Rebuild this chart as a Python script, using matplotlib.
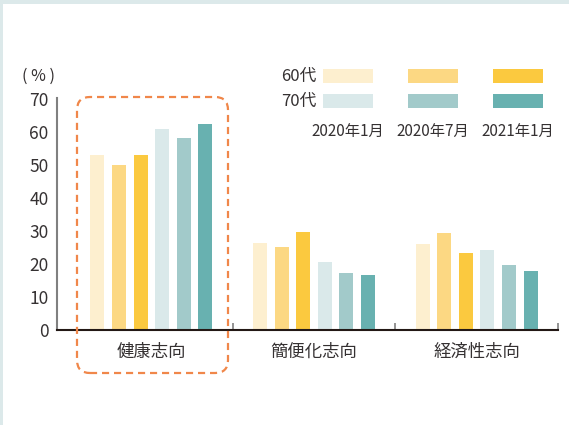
import matplotlib
matplotlib.use("Agg")
import matplotlib.pyplot as plt
from matplotlib.patches import Rectangle, FancyBboxPatch
import numpy as np

plt.rcParams['font.family'] = ['Noto Sans CJK JP', 'DejaVu Sans']

categories = ["健康志向", "簡便化志向", "経済性志向"]
periods = ["2020年1月", "2020年7月", "2021年1月"]
age_groups = ["60代", "70代"]
s60_2020_01 = [53.0, 26.4, 26.1]
s60_2020_07 = [50.0, 25.2, 29.4]
s60_2021_01 = [53.0, 29.7, 23.3]
s70_2020_01 = [60.9, 20.6, 24.2]
s70_2020_07 = [58.2, 17.3, 19.7]
s70_2021_01 = [62.4, 16.7, 17.9]
yticks = [0, 10, 20, 30, 40, 50, 60, 70]

series = [s60_2020_01, s60_2020_07, s60_2021_01, s70_2020_01, s70_2020_07, s70_2021_01]
colors = ["#fdefcf", "#fcd883", "#fbc93f", "#dae9ea", "#a2caca", "#68b1b0"]
text_color = "#353132"

W, H = 569, 425
fig = plt.figure(figsize=(W / 100, H / 100), dpi=100)
fig.patch.set_facecolor("#dce9ea")
fig.patches.append(Rectangle((3, 0), W - 3, H - 4, transform=None,
                             facecolor="white", edgecolor="none", zorder=-10))

ax_l, ax_r, ax_b, ax_t = 57, 558, 330, 99
ax = fig.add_axes([ax_l / W, (H - ax_b) / H, (ax_r - ax_l) / W, (ax_b - ax_t) / H])
ax.set_facecolor("none")

centers = np.arange(len(categories)) + 0.5
step = 0.1328
width = 0.086
for i, (vals, c) in enumerate(zip(series, colors)):
    ax.bar(centers + (i - 2.5) * step, vals, width=width, color=c, zorder=2)

ax.set_xlim(-0.08, 3)
ax.set_ylim(0, 70)
ax.set_yticks(yticks)
ax.set_yticklabels([str(v) for v in yticks], fontsize=12.5, color=text_color)
ax.tick_params(axis='y', length=0, pad=6)
ax.set_xticks([1, 2, 3])
ax.set_xticklabels([])
ax.tick_params(axis='x', direction='in', length=5, width=1.2, color="#808080")
for s in ["top", "right"]:
    ax.spines[s].set_visible(False)
ax.spines["left"].set_color("#808080")
ax.spines["left"].set_linewidth(1.5)
ax.spines["bottom"].set_color("#231815")
ax.spines["bottom"].set_linewidth(1.5)
ax.spines["left"].set_bounds(0, 70.3)

for cx, cat in zip(centers, categories):
    ax.text(cx, -6.7, cat, ha="center", va="center", fontsize=12.5, color=text_color)

# % label
fig.text(38 / W, (H - 76) / H, "( % )", ha="center", va="center", fontsize=11.5, color=text_color)

# dashed highlight box
box = FancyBboxPatch((77, H - 373), 151, 276, boxstyle="round,pad=0,rounding_size=13",
                     transform=None, fill=False, edgecolor="#f0874a", linewidth=1.6,
                     linestyle=(0, (3.2, 2.2)), zorder=5)
fig.patches.append(box)

# legend
col_centers = [348, 433, 518]
row_centers = [76, 101]
for r, age in enumerate(age_groups):
    fig.text(316 / W, (H - row_centers[r]) / H, age, ha="right", va="center",
             fontsize=12, color=text_color)
    for c in range(3):
        fig.patches.append(Rectangle((col_centers[c] - 25, H - row_centers[r] - 7), 50, 14,
                                     transform=None, facecolor=colors[r * 3 + c], edgecolor="none"))
for c, p in enumerate(periods):
    fig.text(col_centers[c] / W, (H - 131) / H, p, ha="center", va="center",
             fontsize=11, color=text_color)

fig.savefig("out.png", dpi=100)
